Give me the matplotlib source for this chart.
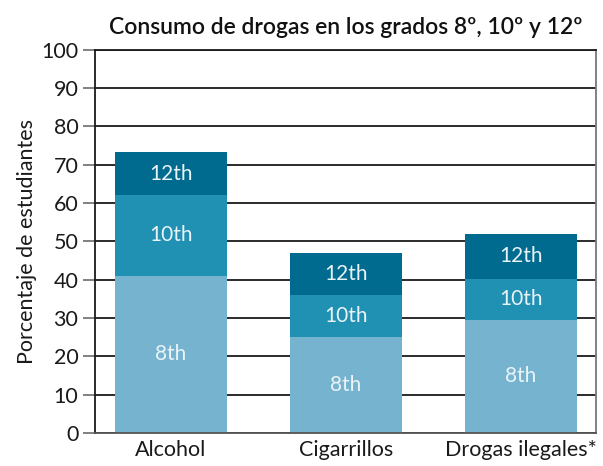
import numpy as np
import matplotlib
matplotlib.use("Agg")
import matplotlib.pyplot as plt

plt.rcParams['font.family'] = ['Lato', 'DejaVu Sans']

categories = ['Alcohol', 'Cigarrillos', 'Drogas ilegales*']
grade_8 = [41.0, 25.0, 29.5]
grade_10 = [62.0, 36.0, 40.2]
grade_12 = [73.3, 47.0, 52.0]
grade_names = ['8th', '10th', '12th']

colors = {'8th': '#76b3cf', '10th': '#2090b3', '12th': '#006a8f'}

fig = plt.figure(figsize=(6.03, 4.66), dpi=100)
ax = fig.add_axes([95/603, 1-433/466, (596-95)/603, (433-49.5)/466])

x = np.arange(len(categories))
w = 0.64

# back to front: 12th, 10th, 8th
series = [('12th', grade_12), ('10th', grade_10), ('8th', grade_8)]
for name, vals in series:
    ax.bar(x, vals, width=w, color=colors[name], zorder=2)

# labels centred in each visible band
for i in range(len(categories)):
    lows = [0, grade_8[i], grade_10[i]]
    highs = [grade_8[i], grade_10[i], grade_12[i]]
    for name, lo, hi in zip(grade_names, lows, highs):
        ax.text(x[i], (lo + hi) / 2, name, ha='center', va='center',
                color='#eaf3f7', fontsize=15, zorder=3)

ax.set_ylim(0, 100)
ax.set_xlim(-0.434, 2.43)
ax.set_yticks(range(0, 101, 10))
ax.set_xticks(x)
ax.set_xticklabels(categories)
ax.yaxis.grid(True, color='#1a1a1a', linewidth=1.3, zorder=1)
ax.set_axisbelow(True)

ax.tick_params(axis='y', length=9, width=1.3, color='#777777',
               labelsize=15.5, pad=3, labelcolor='#1a1a1a')
ax.tick_params(axis='x', length=0, labelsize=15.5, pad=5,
               labelcolor='#1a1a1a')

ax.spines['left'].set_color('#1a1a1a')
ax.spines['top'].set_color('#1a1a1a')
ax.spines['bottom'].set_color('#555555')
ax.spines['right'].set_color('#777777')
for s in ax.spines.values():
    s.set_linewidth(1.3)

ax.set_ylabel('Porcentaje de estudiantes', fontsize=15.5, color='#1a1a1a',
              labelpad=3)
ax.set_title('Consumo de drogas en los grados 8º, 10º y 12º', fontsize=16.5,
             fontweight='semibold', pad=11, color='#111111')

fig.savefig('out.png', dpi=100)
